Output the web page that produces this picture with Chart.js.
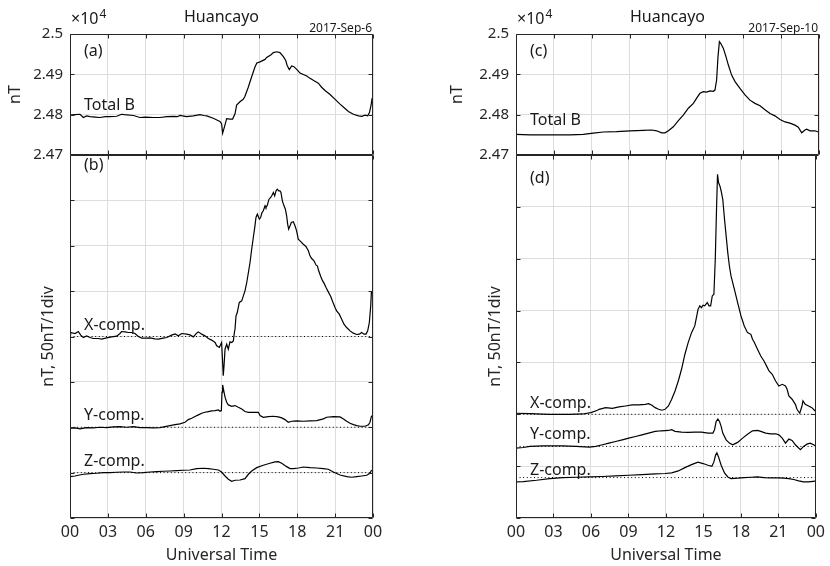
<!DOCTYPE html>
<html>
<head>
<meta charset="utf-8">
<script src="https://cdn.jsdelivr.net/npm/chart.js@4.4.1/dist/chart.umd.min.js"></script>
<style>
  body { margin: 0; background: #fff; }
  #wrap { position: relative; width: 830px; height: 566px; }
  #wrap canvas { position: absolute; left: 0; top: 0; }
</style>
</head>
<body>
<div id="wrap">
  <canvas id="panel_a" width="830" height="566"></canvas>
  <canvas id="panel_b" width="830" height="566"></canvas>
  <canvas id="panel_c" width="830" height="566"></canvas>
  <canvas id="panel_d" width="830" height="566"></canvas>
</div>
<script>
// hours (UT) and values (nT)
const hourTicks = [0, 3, 6, 9, 12, 15, 18, 21, 24]

// ---- 2017-Sep-6 ----
const sep6TotalHours = [0, 0.4, 0.79, 1.06, 1.32, 1.58, 2, 2.38, 2.8, 3.17, 3.7, 4.09, 4.3, 5.02, 5.54, 6, 6.6, 7.13, 7.66, 8.19, 8.5, 8.71, 9.24, 9.77, 10.3, 10.6, 10.83, 11.35, 11.75, 11.88, 12.01, 12.09, 12.2, 12.41, 12.67, 12.88, 13.07, 13.2, 13.46, 13.72, 13.85, 14.12, 14.39, 14.65, 14.8, 15.05, 15.45, 15.58, 15.9, 16.11, 16.37, 16.63, 16.9, 17.08, 17.2, 17.37, 17.56, 17.74, 18.03, 18.22, 18.75, 19.01, 19.4, 19.67, 19.93, 20.2, 20.6, 21, 21.39, 21.65, 22.05, 22.45, 22.85, 23.11, 23.37, 23.58, 23.72, 23.85, 23.93]
const sep6Total = [24799, 24800, 24801, 24793, 24797, 24795, 24794, 24793, 24795, 24795, 24796, 24801, 24800, 24798, 24793, 24794, 24793, 24793, 24795, 24796, 24795, 24798, 24795, 24797, 24800, 24798, 24797, 24791, 24785, 24783, 24777, 24754, 24766, 24790, 24789, 24789, 24802, 24824, 24832, 24838, 24845, 24868, 24894, 24918, 24928, 24931, 24937, 24942, 24948, 24954, 24956, 24954, 24944, 24935, 24922, 24912, 24921, 24919, 24910, 24903, 24896, 24890, 24883, 24878, 24868, 24860, 24850, 24838, 24826, 24819, 24808, 24801, 24797, 24796, 24799, 24797, 24805, 24824, 24841]

const sep6XHours = [0, 0.05, 0.4, 0.66, 0.85, 1.06, 1.32, 1.58, 1.85, 2.24, 2.51, 2.9, 3.3, 3.7, 3.96, 4.09, 4.36, 4.62, 4.88, 5.15, 5.41, 5.68, 6.07, 6.34, 6.73, 7, 7.39, 7.66, 8.05, 8.32, 8.58, 8.85, 9.24, 9.5, 9.77, 10.03, 10.17, 10.43, 10.69, 10.96, 11.22, 11.49, 11.62, 11.83, 12.01, 12.09, 12.14, 12.2, 12.28, 12.41, 12.54, 12.67, 12.81, 12.94, 13.02, 13.07, 13.15, 13.25, 13.41, 13.6, 13.73, 13.86, 14, 14.13, 14.26, 14.39, 14.52, 14.65, 14.73, 14.84, 15, 15.1, 15.21, 15.31, 15.45, 15.52, 15.63, 15.76, 15.9, 16, 16.11, 16.21, 16.32, 16.42, 16.53, 16.63, 16.71, 16.82, 16.95, 17.06, 17.16, 17.24, 17.32, 17.43, 17.53, 17.69, 17.82, 17.95, 18.08, 18.22, 18.48, 18.69, 18.88, 19.01, 19.14, 19.33, 19.49, 19.59, 19.7, 19.86, 20.01, 20.12, 20.28, 20.46, 20.65, 20.81, 20.99, 21.12, 21.33, 21.52, 21.7, 21.91, 22.18, 22.44, 22.71, 22.92, 23.1, 23.29, 23.45, 23.58, 23.71, 23.82, 23.87, 23.95]
const sep6X = [2, 4.4, 3.3, 5.5, 1.5, -1.1, 0.7, -1.1, -2.2, -2.2, -2.9, -1.5, -0.4, 0.4, 3.3, 5.5, 5.1, 4.4, 4.4, 3.3, 0, -1.8, -1.8, -1.5, -2.6, -2.9, -1.8, -1.1, 1.5, 2.9, 0.7, 3.3, 2.6, 1.8, -0.4, 3.7, 5.1, 2.6, 0.7, -2.2, -4, -6.6, -10.3, -12.1, -6.6, -28.7, -43.3, -32.3, -14, -8.5, -14, -5.9, -6.6, -4.8, 4.4, 8.1, 22.8, 26.4, 37.5, 39.3, 44.8, 50.3, 59.5, 70.5, 81.5, 96.2, 109.1, 121.9, 131.1, 134.8, 129.3, 131.1, 136.6, 138.5, 144, 142.1, 144.7, 151.3, 153.2, 155.7, 158.7, 155, 160.5, 162.3, 160.5, 160.5, 158.7, 149.5, 144, 140.3, 133, 123.8, 118.3, 122, 125.6, 126.4, 122, 116.4, 107.3, 105.4, 101.7, 99.2, 94.4, 88.9, 85.9, 83.4, 78.6, 77.9, 72.4, 66.1, 61.3, 58.8, 54, 49.2, 44.1, 38.2, 32, 28.3, 24.6, 19.1, 13.6, 9.9, 6.2, 3.7, 2.2, 2.6, 4.4, 2.6, 2.6, 6.2, 15.4, 33.8, 48.5, 47.7]

const sep6YHours = [0, 0.4, 0.79, 1.32, 1.85, 2.38, 2.9, 3.43, 3.96, 4.49, 5.02, 5.54, 6.07, 6.6, 7.13, 7.52, 7.92, 8.32, 8.71, 9.11, 9.37, 9.64, 9.9, 10.17, 10.43, 10.69, 10.96, 11.22, 11.49, 11.75, 11.88, 11.99, 12.04, 12.09, 12.15, 12.28, 12.41, 12.54, 12.81, 13.07, 13.33, 13.6, 13.86, 14.13, 14.52, 14.92, 15.05, 15.31, 15.71, 16.11, 16.5, 16.77, 17.03, 17.29, 17.56, 17.95, 18.48, 19.01, 19.54, 20.07, 20.33, 20.86, 21.39, 21.66, 21.92, 22.18, 22.45, 22.71, 22.98, 23.37, 23.64, 23.76, 23.89]
const sep6Y = [-1.1, -0.7, -1.8, -0.4, -0.7, 0, -0.4, 0.4, 0.7, 0, 0.7, -0.4, -0.4, -0.7, -0.4, 0.7, 1.8, 2.9, 3.7, 5.5, 8.4, 9.9, 11.8, 13.6, 15.4, 16.5, 17.3, 18, 18.4, 19.1, 17.6, 18.4, 38.6, 46.6, 42.2, 33.1, 27.5, 24.6, 23.1, 23.9, 22, 20.2, 17.3, 16.5, 16.5, 16.5, 12.9, 11, 11.8, 12.1, 11.4, 10.3, 8.4, 5.5, 6.6, 7, 6.6, 7, 7.3, 9.2, 11, 11.8, 11.4, 9.2, 6.6, 4.4, 2.9, 1.8, 1.1, 1.1, 2.6, 5.5, 12.9]

const sep6ZHours = [0, 0.4, 0.66, 1.06, 1.58, 2.11, 2.64, 3.17, 3.7, 4.22, 4.75, 5.28, 5.81, 6.34, 6.86, 7.39, 7.92, 8.45, 8.98, 9.5, 10.03, 10.56, 10.96, 11.35, 11.75, 12.01, 12.28, 12.54, 12.81, 13.07, 13.47, 13.86, 14.13, 14.39, 14.79, 15.31, 15.84, 16.24, 16.5, 16.77, 17.16, 17.43, 17.69, 18.09, 18.48, 19.01, 19.54, 20.07, 20.46, 20.86, 21.39, 21.92, 22.31, 22.71, 23.11, 23.5, 23.76, 23.89]
const sep6Z = [-4.4, -3.7, -2.9, -1.8, -1.1, -0.7, 0, 0, 0.4, 0.7, 0.7, -0.4, 0, 0.7, 1.1, 1.5, 1.8, 2.2, 2.6, 2.9, 4.4, 4.8, 4.4, 3.7, 2.9, 0.7, -3.7, -7.3, -9.5, -8.4, -8.1, -6.6, -1.8, 1.8, 5.5, 8.1, 10.3, 11.8, 12.1, 10.3, 6.6, 4.4, 4.4, 5.1, 6.2, 5.5, 5.1, 4.4, 3.7, 0.7, -2.6, -4.4, -5.1, -4.4, -3.7, -2.9, -0.7, 2.9]

// ---- 2017-Sep-10 ----
const sep10TotalHours = [0, 1.11, 2.16, 3.22, 4.28, 5.33, 6.12, 6.92, 7.97, 9.03, 10.08, 10.75, 11.14, 11.54, 11.8, 12.07, 12.46, 12.86, 13.25, 13.65, 14.05, 14.31, 14.57, 14.84, 15.1, 15.37, 15.63, 15.76, 15.89, 16, 16.11, 16.21, 16.42, 16.63, 16.82, 17.08, 17.35, 17.74, 18.14, 18.53, 18.93, 19.33, 19.72, 20.12, 20.51, 20.91, 21.31, 21.7, 22.1, 22.36, 22.63, 22.89, 23.02, 23.29, 23.68, 23.95]
const sep10Total = [24751, 24750, 24750, 24750, 24750, 24751, 24754, 24757, 24758, 24760, 24761, 24762, 24760, 24755, 24755, 24760, 24770, 24785, 24799, 24816, 24828, 24841, 24853, 24857, 24856, 24859, 24858, 24861, 24886, 24944, 24981, 24977, 24965, 24944, 24923, 24898, 24882, 24865, 24849, 24836, 24828, 24822, 24812, 24803, 24797, 24788, 24782, 24779, 24774, 24769, 24755, 24762, 24764, 24760, 24760, 24757]

const sep10XHours = [0, 1.11, 2.69, 4.28, 5.33, 6, 6.52, 6.65, 7.18, 7.71, 8.24, 8.77, 9.29, 9.82, 10.35, 10.61, 10.88, 11.14, 11.41, 11.67, 11.93, 12.2, 12.46, 12.73, 12.99, 13.25, 13.52, 13.78, 14.05, 14.31, 14.44, 14.57, 14.71, 14.84, 14.97, 15.1, 15.31, 15.45, 15.58, 15.71, 15.84, 15.95, 16.05, 16.13, 16.21, 16.32, 16.42, 16.55, 16.69, 16.82, 16.95, 17.08, 17.21, 17.48, 17.74, 18.01, 18.27, 18.53, 18.8, 18.93, 19.06, 19.33, 19.59, 19.85, 20.12, 20.25, 20.51, 20.78, 21.04, 21.31, 21.57, 21.7, 21.84, 22.1, 22.36, 22.49, 22.71, 22.89, 22.97, 23.15, 23.42, 23.68, 23.95]
const sep10X = [1, 0.6, 0, 0, 0.3, 1.6, 3.9, 4.8, 6.4, 5.8, 7.1, 8, 9, 9, 9.6, 10.3, 8.7, 6.4, 4.8, 3.9, 4.8, 8, 14.5, 22.5, 32.1, 43.4, 57.9, 69.1, 78.7, 85.2, 93.2, 101.2, 104.5, 102.8, 105.1, 104.5, 107.7, 104.5, 104.5, 114.1, 115.7, 149.5, 197.7, 231.4, 223.4, 220.2, 215.3, 207.3, 188, 172, 155.9, 143, 133.4, 120.5, 107.7, 94.8, 85.2, 78.7, 77.1, 72.3, 69.7, 62.7, 56.2, 51.4, 45, 41.8, 38.6, 32.1, 27.3, 28.9, 27.3, 24.1, 17.7, 14.5, 9.6, 4.8, 1, 8, 12.9, 9.6, 8, 6.4, 3.2]

const sep10YHours = [0, 0.58, 1.11, 2.16, 2.96, 3.75, 4.81, 5.86, 6.39, 6.92, 7.44, 7.97, 8.5, 9.03, 9.56, 10.08, 10.61, 11.14, 11.67, 12.2, 12.46, 12.73, 13.25, 13.78, 14.31, 14.84, 15.37, 15.76, 15.89, 16.02, 16.16, 16.29, 16.42, 16.55, 16.82, 17.08, 17.35, 17.74, 18.14, 18.53, 18.93, 19.33, 19.59, 19.99, 20.38, 20.78, 21.04, 21.31, 21.57, 21.84, 22.1, 22.36, 22.76, 23.02, 23.29, 23.55, 23.82, 23.95]
const sep10Y = [-1.6, -1, 0, 0.6, 0.6, 0.6, 0, -0.6, 0, 1.6, 3.2, 4.8, 6.4, 8, 9.6, 11.2, 12.9, 14.5, 15.1, 15.4, 16.1, 14.5, 13.8, 13.5, 13.8, 13.8, 12.9, 12.9, 16.1, 24.1, 26.4, 24.1, 19.3, 12.9, 6.4, 3.2, 1.6, 3.9, 8, 11.8, 15.1, 15.4, 14.5, 12.9, 12.2, 12.2, 11.2, 8, 3.2, 7.1, 5.8, 1.6, -3.2, 0, 2.2, 3.2, 1.6, 0.6]

const sep10ZHours = [0, 0.58, 1.64, 2.69, 3.75, 4.81, 5.86, 6.92, 7.97, 9.03, 10.08, 11.14, 11.93, 12.46, 12.99, 13.52, 14.05, 14.57, 14.97, 15.37, 15.68, 15.84, 15.97, 16.08, 16.21, 16.42, 16.69, 16.95, 17.21, 17.74, 18.27, 18.8, 19.33, 19.85, 20.38, 20.91, 21.44, 21.84, 22.23, 22.63, 23.02, 23.42, 23.95]
const sep10Z = [-4.2, -3.9, -2.6, -1, 0, 0.3, 0.6, 1, 1.6, 2.2, 2.9, 3.5, 3.9, 4.5, 6.4, 9.6, 12.5, 14.8, 13.5, 11.9, 10.9, 15.1, 21.5, 23.8, 19.9, 11.9, 4.5, 0.6, -1, -0.6, 0, 0.3, 0.6, 0, -0.3, -0.3, -0.6, -1, -1.9, -3.2, -4.2, -4.2, -3.5]

// vertical offsets (nT) of the X, Y, Z traces in the 50nT/div panels
const sep6Offsets = [200, 100, 50]
const sep10Offsets = [100, 69, 39]

Chart.defaults.font.family = "'Noto Sans', 'DejaVu Sans', sans-serif"
Chart.defaults.color = '#262626'

function trace(hours, values, offset){
    return {
        data: hours.map((h, i) => ({x: h, y: values[i] + offset})),
        borderColor: '#000',
        borderWidth: 1.2,
        pointRadius: 0,
        tension: 0,
        fill: false
    }
}

function baseline(offset){
    return {
        data: [{x: hourTicks[0], y: offset}, {x: hourTicks[hourTicks.length - 1], y: offset}],
        borderColor: '#000',
        borderWidth: 1,
        borderDash: [1, 2.6],
        pointRadius: 0
    }
}

// box round the plot area with short inward tick marks (MATLAB look)
const framePlugin = {
    id: 'frame',
    afterDatasetsDraw(chart){
        const {ctx, chartArea: a, scales} = chart
        const L = Math.round(a.left) + 0.5, R = Math.round(a.right) - 0.5
        const T = Math.round(a.top) + 0.5, B = Math.round(a.bottom) - 0.5
        ctx.save()
        ctx.strokeStyle = '#262626'
        ctx.lineWidth = 1
        ctx.beginPath()
        scales.x.ticks.forEach(t => {
            const px = Math.round(scales.x.getPixelForValue(t.value)) + 0.5
            ctx.moveTo(px, T); ctx.lineTo(px, T + 4)
            ctx.moveTo(px, B); ctx.lineTo(px, B - 4)
        })
        scales.y.ticks.forEach(t => {
            const py = Math.round(scales.y.getPixelForValue(t.value)) + 0.5
            ctx.moveTo(L, py); ctx.lineTo(L + 4, py)
            ctx.moveTo(R, py); ctx.lineTo(R - 4, py)
        })
        ctx.rect(L, T, R - L, B - T)
        ctx.stroke()
        ctx.restore()
    }
}

// free text: [text, x, baseline y, size, align, superscript]
function notes(list){
    return {
        id: 'notes',
        afterDraw(chart){
            const ctx = chart.ctx
            ctx.save()
            ctx.fillStyle = '#1a1a1a'
            ctx.textBaseline = 'alphabetic'
            list.forEach(n => {
                ctx.font = n[3] + "px 'Noto Sans', 'DejaVu Sans', sans-serif"
                ctx.textAlign = n[4] || 'left'
                ctx.fillText(n[0], n[1], n[2])
                if (n[5]) {
                    const w = ctx.measureText(n[0]).width
                    ctx.font = "12px 'Noto Sans', 'DejaVu Sans', sans-serif"
                    ctx.textAlign = 'left'
                    ctx.fillText(n[5], n[1] + w + 1, n[2] - 6)
                }
            })
            ctx.restore()
        }
    }
}

const xTickLabel = v => String(v % 24).padStart(2, '0')

function panel(id, cfg){
    return new Chart(document.getElementById(id).getContext('2d'), {
        type: 'line',
        data: { datasets: cfg.datasets },
        options: {
            responsive: false,
            animation: false,
            events: [],
            layout: { padding: cfg.padding },
            plugins: { legend: { display: false }, tooltip: { enabled: false } },
            scales: {
                x: {
                    type: 'linear',
                    min: 0, max: 24,
                    afterBuildTicks: s => { s.ticks = hourTicks.map(v => ({value: v})) },
                    grid: { color: '#dedede', drawTicks: false },
                    border: { display: false },
                    ticks: { display: cfg.xLabels, callback: xTickLabel, padding: 5, font: { size: 16 }, maxRotation: 0 },
                    title: { display: cfg.xLabels, text: 'Universal Time', font: { size: 16 }, padding: { top: 0, bottom: 0.5 } },
                    afterFit: s => { s.height = cfg.xLabels ? 48 : 0 }
                },
                y: {
                    min: cfg.yMin, max: cfg.yMax,
                    ticks: {
                        display: cfg.yLabels,
                        stepSize: cfg.yStep,
                        padding: 7,
                        font: { size: 15 },
                        callback: v => String(+(v / 10000).toFixed(2))
                    },
                    grid: { color: '#dedede', drawTicks: false },
                    border: { display: false },
                    title: { display: true, text: cfg.yTitle, font: { size: 16 }, padding: { top: cfg.yTitlePad, bottom: 0 } },
                    afterFit: s => { s.width = 70 }
                }
            }
        },
        plugins: [framePlugin, notes(cfg.notes)]
    })
}

const panelA = panel('panel_a', {
    datasets: [trace(sep6TotalHours, sep6Total, 0)],
    padding: { left: 0, top: 34, right: 457, bottom: 411 },
    xLabels: false, yLabels: true,
    yMin: 24700, yMax: 25000, yStep: 100,
    yTitle: 'nT', yTitlePad: 6,
    notes: [
        ['Huancayo', 221.5, 22, 16, 'center'],
        ['2017-Sep-6', 372, 32, 12, 'right'],
        ['\u00d710', 71, 24, 16, 'left', '4'],
        ['(a)', 84, 56, 16],
        ['Total B', 84, 110, 16]
    ]
})

const panelB = panel('panel_b', {
    datasets: [
        baseline(sep6Offsets[0]), baseline(sep6Offsets[1]), baseline(sep6Offsets[2]),
        trace(sep6XHours, sep6X, sep6Offsets[0]),
        trace(sep6YHours, sep6Y, sep6Offsets[1]),
        trace(sep6ZHours, sep6Z, sep6Offsets[2])
    ],
    padding: { left: 0, top: 155, right: 457, bottom: 0 },
    xLabels: true, yLabels: false,
    yMin: 0, yMax: 400, yStep: 50,
    yTitle: 'nT, 50nT/1div', yTitlePad: 39,
    notes: [
        ['(b)', 84, 170, 16],
        ['X-comp.', 84, 330, 16],
        ['Y-comp.', 84, 420, 16],
        ['Z-comp.', 84, 466, 16]
    ]
})

const panelC = panel('panel_c', {
    datasets: [trace(sep10TotalHours, sep10Total, 0)],
    padding: { left: 446, top: 34, right: 11, bottom: 411 },
    xLabels: false, yLabels: true,
    yMin: 24700, yMax: 25000, yStep: 100,
    yTitle: 'nT', yTitlePad: 1.5,
    notes: [
        ['Huancayo', 667.5, 22, 16, 'center'],
        ['2017-Sep-10', 818, 32, 12, 'right'],
        ['\u00d710', 517, 24, 16, 'left', '4'],
        ['(c)', 530, 56, 16],
        ['Total B', 530, 125, 16]
    ]
})

const panelD = panel('panel_d', {
    datasets: [
        baseline(sep10Offsets[0]), baseline(sep10Offsets[1]), baseline(sep10Offsets[2]),
        trace(sep10XHours, sep10X, sep10Offsets[0]),
        trace(sep10YHours, sep10Y, sep10Offsets[1]),
        trace(sep10ZHours, sep10Z, sep10Offsets[2])
    ],
    padding: { left: 446, top: 155, right: 11, bottom: 0 },
    xLabels: true, yLabels: false,
    yMin: 0, yMax: 350, yStep: 50,
    yTitle: 'nT, 50nT/1div', yTitlePad: 40,
    notes: [
        ['(d)', 530, 183, 16],
        ['X-comp.', 530, 408, 16],
        ['Y-comp.', 530, 439, 16],
        ['Z-comp.', 530, 475, 16]
    ]
})
</script>
</body>
</html>
